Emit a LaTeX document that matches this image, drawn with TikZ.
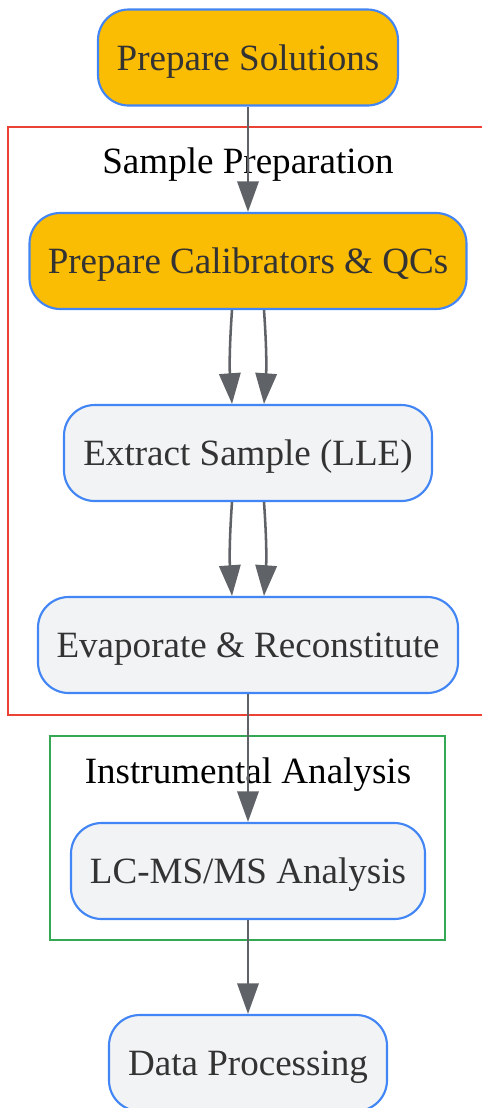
\documentclass[tikz,border=0pt]{standalone}
\usepackage{fontspec}
\setmainfont{Liberation Serif}
\usetikzlibrary{arrows.meta}
\definecolor{nodeorange}{HTML}{FBBC04}
\definecolor{nodegray}{HTML}{F1F3F4}
\definecolor{nodeblue}{HTML}{4285F4}
\definecolor{arrowgray}{HTML}{5F6368}
\definecolor{textgray}{HTML}{333333}
\definecolor{clusterred}{HTML}{EA4335}
\definecolor{clustergreen}{HTML}{34A853}
\tikzset{
  stepbox/.style={draw=nodeblue, line width=1.6pt, rounded corners=23pt,
    minimum height=72pt, inner sep=0pt, text=textgray, text depth=0pt,
    font=\fontsize{27.8}{32}\selectfont},
  orangebox/.style={stepbox, fill=nodeorange},
  graybox/.style={stepbox, fill=nodegray},
  cluster/.style={line width=1.6pt},
  clusterlabel/.style={font=\fontsize{27.8}{32}\selectfont, text=black, inner sep=0pt, text depth=0pt},
  flow/.style={draw=arrowgray, line width=1.9pt,
    -{Triangle[length=23pt,width=16pt]}, shorten >=0pt}
}
\begin{document}
\begin{tikzpicture}[x=0.75pt,y=-0.75pt]
\useasboundingbox (0,0) rectangle (482,1108);
\clip (0,0) rectangle (482,1108);
% clusters
\draw[cluster, draw=clusterred] (8,127) rectangle (495,715);
\node[clusterlabel] (lblprep) at (248,161) {Sample Preparation};
\draw[cluster, draw=clustergreen] (50,736) rectangle (445,940);
\node[clusterlabel] (lblinst) at (248,771) {Instrumental Analysis};
% nodes
\node[orangebox, minimum width=225pt] (sol) at (248,57.5) {Prepare Solutions};
\node[orangebox, minimum width=327.75pt] (cal) at (248,261) {Prepare Calibrators \& QCs};
\node[graybox, minimum width=276pt] (ext) at (248,453) {Extract Sample (LLE)};
\node[graybox, minimum width=315pt] (eva) at (248,645) {Evaporate \& Reconstitute};
\node[graybox, minimum width=265.5pt] (lc) at (248,871) {LC-MS/MS Analysis};
\node[graybox, minimum width=208.5pt] (dat) at (248,1063) {Data Processing};
% connectors
\draw[flow] (sol.south) -- (cal.north);
\draw[flow] ([xshift=-12pt]cal.south) to[bend right=4] ([xshift=-12pt]ext.north);
\draw[flow] ([xshift=12pt]cal.south) to[bend left=4] ([xshift=12pt]ext.north);
\draw[flow] ([xshift=-12pt]ext.south) to[bend right=4] ([xshift=-12pt]eva.north);
\draw[flow] ([xshift=12pt]ext.south) to[bend left=4] ([xshift=12pt]eva.north);
\draw[flow] (eva.south) -- (lc.north);
\draw[flow] (lc.south) -- (dat.north);
\end{tikzpicture}
\end{document}
